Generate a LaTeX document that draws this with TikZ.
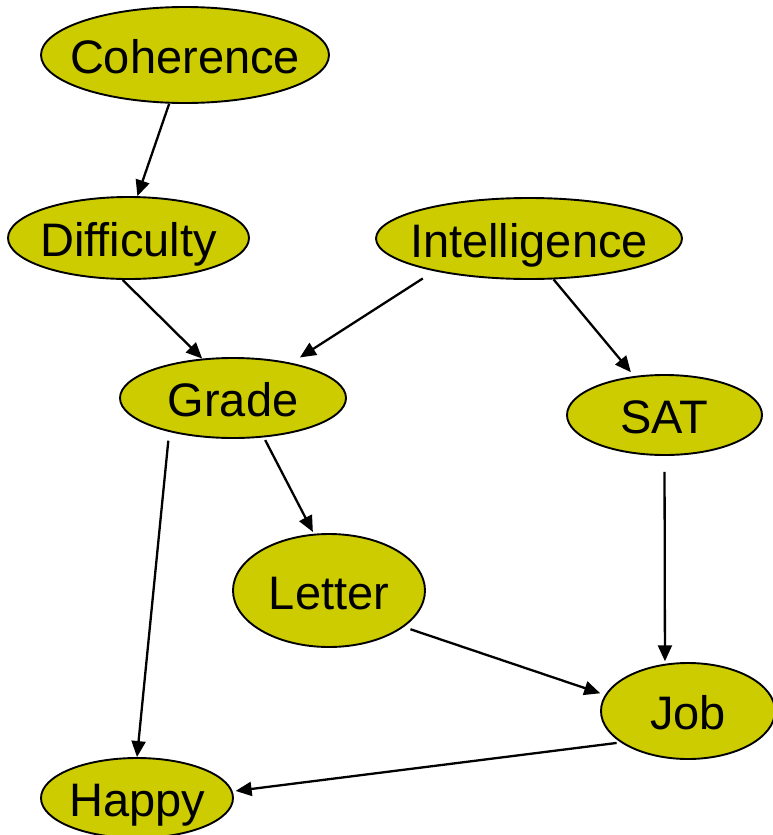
\documentclass[tikz,border=0pt]{standalone}
\usepackage{fontspec}
\setmainfont{Liberation Sans}
\usetikzlibrary{shapes.geometric,arrows.meta}
\definecolor{nodefill}{HTML}{CCCC00}
\begin{document}
\begin{tikzpicture}[x=1pt,y=-1pt,
  var/.style={ellipse, draw=black, line width=1.9pt, fill=nodefill, inner sep=0pt},
  lbl/.style={font=\fontsize{47}{50}\selectfont, text height=34pt, text depth=0pt, inner sep=0pt, yshift=-1.5pt},
  arr/.style={-{Triangle[length=16pt,width=14pt]}, line width=2.3pt}]
\useasboundingbox (0,0) rectangle (772,835);
\node[var, minimum width=288pt, minimum height=96pt, label={[lbl]center:Coherence}] (coh) at (185,55) {};
\node[var, minimum width=241pt, minimum height=82pt, label={[lbl]center:Difficulty}] (diff) at (128.5,238) {};
\node[var, minimum width=306pt, minimum height=81pt, label={[lbl]center:Intelligence}] (int) at (529,238.5) {};
\node[var, minimum width=226pt, minimum height=80pt, label={[lbl]center:Grade}] (grade) at (233,398) {};
\node[var, minimum width=195pt, minimum height=80pt, label={[lbl]center:SAT}] (sat) at (664.5,415) {};
\node[var, minimum width=192pt, minimum height=113pt, label={[lbl]center:Letter}] (letter) at (329,590.5) {};
\node[var, minimum width=174pt, minimum height=96pt, label={[lbl]center:Job}] (job) at (688,711) {};
\node[var, minimum width=192pt, minimum height=80pt, label={[lbl]center:Happy}] (happy) at (137,798) {};
\draw[arr] (coh.252) -- (diff.78);
\draw[arr] (diff.-98) -- (grade.128);
\draw[arr, shorten <=13.5pt, shorten >=10pt] (int.199) -- (grade.31.6);
\draw[arr, shorten >=5pt] (int.-59.3) -- (sat.128);
\draw[arr, shorten <=8.8pt] (grade.208) -- (happy.90);
\draw[arr, shorten <=3pt, shorten >=2pt] (grade.-52) -- (letter.105);
\draw[arr, shorten <=16pt, shorten >=2.5pt] (sat.-90) -- (job.116);
\draw[arr, shorten <=7pt, shorten >=5pt] (letter.-26.4) -- (job.169.4);
\draw[arr, shorten <=4pt, shorten >=3pt] (job.205.2) -- (happy.4.6);
\end{tikzpicture}
\end{document}
